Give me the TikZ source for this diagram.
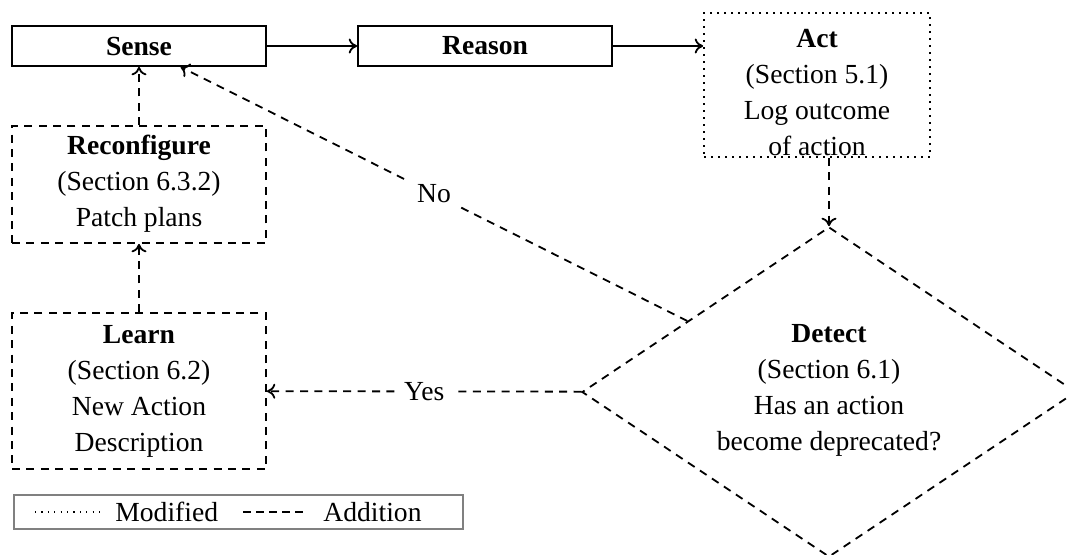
\documentclass[tikz,border=0pt]{standalone}
\usepackage{fontspec}
\setmainfont{Liberation Serif}
\usetikzlibrary{shapes.geometric,arrows.meta}
\begin{document}
\begin{tikzpicture}[x=0.5pt,y=-0.5pt,
  font=\fontsize{13.8}{18}\selectfont,
  base/.style={draw, line width=0.9pt, inner sep=0pt},
  solidbox/.style={base, rectangle, minimum width=127pt, minimum height=20pt, font=\fontsize{13.8}{18}\selectfont\bfseries},
  addbox/.style={base, rectangle, dash pattern=on 4pt off 3.2pt},
  modbox/.style={base, rectangle, dash pattern=on 0.9pt off 2.6pt},
  adddia/.style={base, diamond, dash pattern=on 4pt off 3.2pt},
  txt/.style={align=center, inner sep=0pt},
  flow/.style={line width=0.9pt, -{To[length=4.2pt,width=7.5pt]}},
  addflow/.style={flow, dash pattern=on 4pt off 3.2pt},
  lbl/.style={fill=white, inner sep=4.5pt}
]
\useasboundingbox (0,0) rectangle (1068,554);

% main loop
\node[solidbox] (sense) at (139,46) {Sense};
\node[solidbox] (reason) at (485,46) {Reason};
\node[modbox, minimum width=113pt, minimum height=72pt] (act) at (817,85) {};
\node[txt] (acttext) at (817,93) {\textbf{Act}\\(Section 5.1)\\Log outcome\\of action};

% added stages
\node[adddia, minimum width=247pt, minimum height=165pt] (detect) at (829,392) {};
\node[txt] (detecttext) at (829,390) {\textbf{Detect}\\(Section 6.1)\\Has an action\\become deprecated?};

\node[addbox, minimum width=127pt, minimum height=78pt] (learn) at (139,391) {};
\node[txt] (learntext) at (139,391) {\textbf{Learn}\\(Section 6.2)\\New Action\\Description};

\node[addbox, minimum width=127pt, minimum height=58.5pt] (reconf) at (139,184.5) {};
\node[txt] (reconftext) at (139,183.5) {\textbf{Reconfigure}\\(Section 6.3.2)\\Patch plans};

% connectors
\draw[flow] (sense) -- (reason);
\draw[flow] (reason.east) -- (reason.east -| act.west);
\draw[addflow] (detect.north |- act.south) -- (detect.north);
\draw[addflow] (detect) -- node[lbl] {No} (sense);
\draw[addflow] (detect) -- node[lbl] {Yes} (learn);
\draw[addflow] (learn) -- (reconf);
\draw[addflow] (reconf) -- (sense);

% legend
\node[draw=black!50, line width=0.8pt, minimum width=224.5pt, minimum height=17pt, inner sep=0pt] (legend) at (238.5,512) {};
\draw[line width=0.6pt, dash pattern=on 0.6pt off 2.6pt] (35,512) -- (104,512);
\node[anchor=west, inner sep=0pt] (modlbl) at (115,512) {Modified};
\draw[line width=0.8pt, dash pattern=on 4pt off 2.5pt] (243,512) -- (306,512);
\node[anchor=west, inner sep=0pt] (addlbl) at (323,512) {Addition};
\end{tikzpicture}
\end{document}
